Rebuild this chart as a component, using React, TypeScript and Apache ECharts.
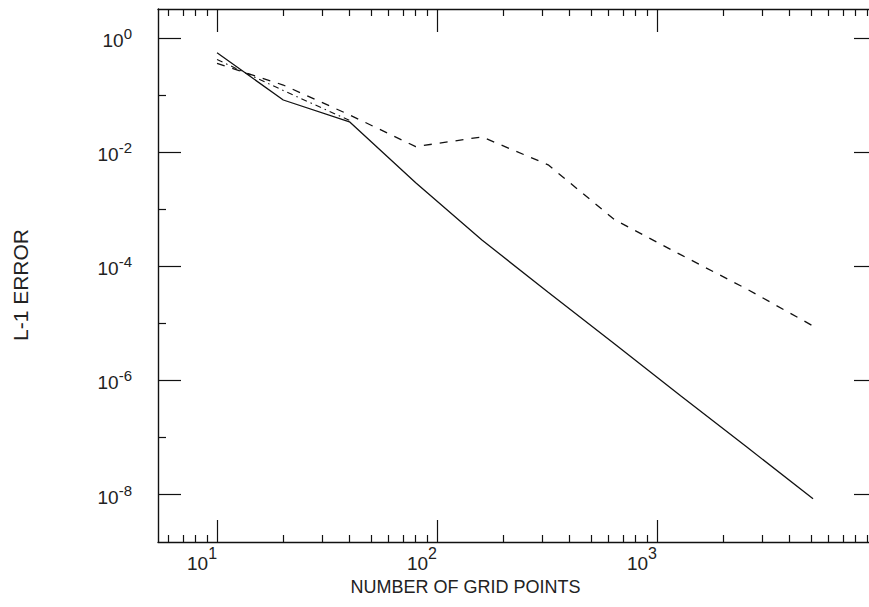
import React, { useEffect, useRef } from "react";
import * as echarts from "echarts";

// Grid sizes (number of grid points)
const gridPoints = [10, 20, 40, 80, 160, 320, 640, 1280, 2560, 5120];
// L-1 error, solid curve
const solidError = [0.55, 0.082, 0.034, 2.9e-3, 2.9e-4, 3.5e-5, 4.4e-6, 5.4e-7, 6.8e-8, 8.5e-9];
// L-1 error, dashed curve
const dashedError = [0.36, 0.15, 0.045, 0.0125, 0.0185, 6.0e-3, 6.6e-4, 1.6e-4, 4.0e-5, 9.0e-6];
// L-1 error, dash-dot curve (visible only on the coarsest grids)
const dashDotPoints = [10, 20, 40];
const dashDotError = [0.42, 0.12, 0.036];

// Axis ticks
const xMajorTicks = [10, 100, 1000];
const xMinorTicks = [
  6, 7, 8, 9,
  20, 30, 40, 50, 60, 70, 80, 90,
  200, 300, 400, 500, 600, 700, 800, 900,
  2000, 3000, 4000, 5000, 6000, 7000, 8000, 9000,
];
const yMajorTicks = [1, 1e-2, 1e-4, 1e-6, 1e-8];
const yMinorTicks = [1e-1, 1e-3, 1e-5, 1e-7];
const xTickExponents = ["1", "2", "3"];
const yTickExponents = ["0", "-2", "-4", "-6", "-8"];

const X_MIN = 5.39;
const X_MAX = 10000;
const Y_MIN = Math.pow(10, -8.83);
const Y_MAX = Math.pow(10, 0.508);

const FONT = "'Liberation Sans', Arial, sans-serif";
const INK = "#111";

export default function App() {
  const ref = useRef<HTMLDivElement>(null);

  useEffect(() => {
    document.body.style.margin = "0";
    if (!ref.current) return;
    const chart = echarts.init(ref.current, undefined, { renderer: "svg" });

    const xFmt = (v: number) => {
      const i = xMajorTicks.findIndex((t) => Math.abs(t - v) / t < 1e-6);
      return i < 0 ? "" : `{b|10}{e|${xTickExponents[i]}}`;
    };
    const yFmt = (v: number) => {
      const i = yMajorTicks.findIndex((t) => Math.abs(t - v) / t < 1e-6);
      return i < 0 ? "" : `{b|10}{e|${yTickExponents[i]}}`;
    };

    const baseX = {
      type: "log" as const,
      logBase: 10,
      min: X_MIN,
      max: X_MAX,
      splitLine: { show: false },
      minorTick: { show: false },
      minorSplitLine: { show: false },
    };
    const baseY = {
      type: "log" as const,
      logBase: 10,
      min: Y_MIN,
      max: Y_MAX,
      splitLine: { show: false },
      minorTick: { show: false },
      minorSplitLine: { show: false },
    };
    const lineStyle = { color: INK, width: 1.4 };

    chart.setOption({
      animation: false,
      backgroundColor: "#fff",
      grid: {
        left: 158,
        top: 9,
        right: -8,
        bottom: 65,
        containLabel: false,
        outerBoundsMode: "none",
      },
      xAxis: [
        {
          ...baseX,
          position: "bottom",
          axisLine: { show: true, lineStyle },
          axisTick: {
            show: true,
            inside: true,
            length: 22,
            customValues: xMajorTicks,
            lineStyle: { color: INK, width: 1.2 },
          },
          axisLabel: {
            show: true,
            customValues: xMajorTicks,
            formatter: xFmt,
            align: "right",
            margin: 3,
            rich: {
              b: { fontFamily: FONT, fontSize: 19, color: "#222", lineHeight: 28, verticalAlign: "bottom" },
              e: { fontFamily: FONT, fontSize: 16, color: "#222", lineHeight: 8, verticalAlign: "top" },
            },
          },
          name: "NUMBER OF GRID POINTS",
          nameLocation: "middle",
          nameGap: 16,
          nameTextStyle: {
            fontFamily: FONT,
            fontSize: 18,
            color: "#222",
            padding: [0, 104, 0, 0],
          },
        },
        {
          ...baseX,
          position: "bottom",
          axisLine: { show: false },
          axisTick: {
            show: true,
            inside: true,
            length: 7,
            customValues: xMinorTicks,
            lineStyle: { color: INK, width: 1.2 },
          },
          axisLabel: { show: false },
        },
        {
          ...baseX,
          position: "top",
          axisLine: { show: true, lineStyle },
          axisTick: {
            show: true,
            inside: true,
            length: 23,
            customValues: xMajorTicks,
            lineStyle: { color: INK, width: 1.2 },
          },
          axisLabel: { show: false },
        },
        {
          ...baseX,
          position: "top",
          axisLine: { show: false },
          axisTick: {
            show: true,
            inside: true,
            length: 7,
            customValues: xMinorTicks,
            lineStyle: { color: INK, width: 1.2 },
          },
          axisLabel: { show: false },
        },
      ],
      yAxis: [
        {
          ...baseY,
          position: "left",
          axisLine: { show: true, lineStyle },
          axisTick: {
            show: true,
            inside: true,
            length: 23,
            customValues: yMajorTicks,
            lineStyle: { color: INK, width: 1.2 },
          },
          axisLabel: {
            show: true,
            customValues: yMajorTicks,
            formatter: yFmt,
            margin: 26,
            rich: {
              b: { fontFamily: FONT, fontSize: 19, color: "#222", lineHeight: 24, verticalAlign: "bottom" },
              e: { fontFamily: FONT, fontSize: 15, color: "#222", lineHeight: 10, verticalAlign: "top" },
            },
          },
          name: "L-1 ERROR",
          nameLocation: "middle",
          nameRotate: 90,
          nameGap: 127,
          nameTextStyle: {
            fontFamily: FONT,
            fontSize: 21,
            color: "#222",
            padding: [0, 19, 0, 0],
          },
        },
        {
          ...baseY,
          position: "left",
          axisLine: { show: false },
          axisTick: {
            show: true,
            inside: true,
            length: 8,
            customValues: yMinorTicks,
            lineStyle: { color: INK, width: 1.2 },
          },
          axisLabel: { show: false },
        },
        {
          ...baseY,
          position: "right",
          axisLine: { show: true, lineStyle },
          axisTick: {
            show: true,
            inside: true,
            length: 23,
            customValues: yMajorTicks,
            lineStyle: { color: INK, width: 1.2 },
          },
          axisLabel: { show: false },
        },
        {
          ...baseY,
          position: "right",
          axisLine: { show: false },
          axisTick: {
            show: true,
            inside: true,
            length: 8,
            customValues: yMinorTicks,
            lineStyle: { color: INK, width: 1.2 },
          },
          axisLabel: { show: false },
        },
      ],
      series: [
        {
          name: "solid",
          type: "line",
          xAxisIndex: 0,
          yAxisIndex: 0,
          data: gridPoints.map((n, i) => [n, solidError[i]]),
          showSymbol: false,
          symbol: "none",
          lineStyle: { color: INK, width: 1.3, type: "solid" },
        },
        {
          name: "dashed",
          type: "line",
          xAxisIndex: 0,
          yAxisIndex: 0,
          data: gridPoints.map((n, i) => [n, dashedError[i]]),
          showSymbol: false,
          symbol: "none",
          lineStyle: { color: INK, width: 1.3, type: [8, 8] },
        },
        {
          name: "dash-dot",
          type: "line",
          xAxisIndex: 0,
          yAxisIndex: 0,
          data: dashDotPoints.map((n, i) => [n, dashDotError[i]]),
          showSymbol: false,
          symbol: "none",
          lineStyle: { color: INK, width: 1.1, type: [6, 4, 1.5, 4] },
        },
      ],
    });

    return () => chart.dispose();
  }, []);

  return (
    <div
      ref={ref}
      style={{ position: "absolute", left: 0, top: 0, width: 869, height: 607, background: "#fff" }}
    />
  );
}
